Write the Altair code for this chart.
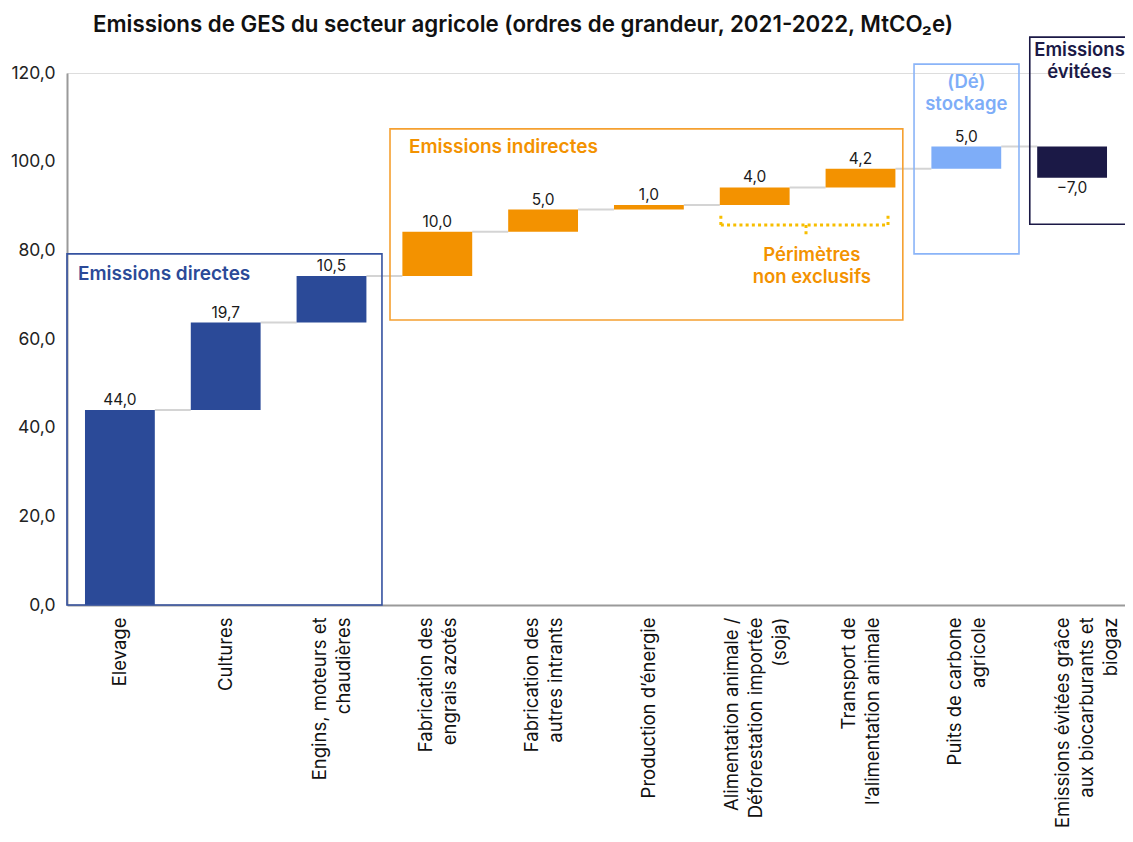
import json
import altair as alt
import pandas as pd

# ---------------- data ----------------
categories = [
    "Elevage",
    "Cultures",
    "Engins, moteurs et|chaudières",
    "Fabrication des|engrais azotés",
    "Fabrication des|autres intrants",
    "Production d’énergie",
    "Alimentation animale /|Déforestation importée|(soja)",
    "Transport de|l’alimentation animale",
    "Puits de carbone|agricole",
    "Emissions évitées grâce|aux biocarburants et|biogaz",
]
values = [44.0, 19.7, 10.5, 10.0, 5.0, 1.0, 4.0, 4.2, 5.0, -7.0]
groups = ["directes", "directes", "directes",
          "indirectes", "indirectes", "indirectes", "indirectes", "indirectes",
          "stockage", "evitees"]
y_ticks = [0, 20, 40, 60, 80, 100, 120]

group_names = ["directes", "indirectes", "stockage", "evitees"]
group_colors = ["#2B4A98", "#F39200", "#7EADF8", "#1B1946"]

# ---------------- derived table ----------------
df = pd.DataFrame({"idx": list(range(len(values))), "value": values, "group": groups})
df["end"] = df["value"].cumsum()
df["start"] = df["end"] - df["value"]
HALF = 0.33
df["x0"] = df["idx"] - HALF
df["x1"] = df["idx"] + HALF

conn = pd.DataFrame({
    "x0": df["x1"].iloc[:-1].values,
    "x1": (df["x0"].iloc[1:]).values,
    "y": df["end"].iloc[:-1].values,
})

# annotation boxes (data units)
boxes = pd.DataFrame({
    "x0": [-0.5, 2.553, 7.506, 8.60],
    "x1": [2.477, 7.40, 8.498, 9.75],
    "y0": [0.0, 64.3, 79.2, 85.9],
    "y1": [79.2, 107.4, 122.0, 128.1],
    "color": ["#3552A0", "#F5A030", "#8AB4F8", "#1B1946"],
})

notes = pd.DataFrame({
    "x": [-0.396, 2.732],
    "y": [74.7, 103.3],
    "text": ["Emissions directes", "Emissions indirectes"],
    "color": ["#2B4A98", "#F39200"],
})
notes_c = pd.DataFrame({
    "x": [8.0, 8.0, 9.07, 9.07, 6.54, 6.54],
    "y": [118.0, 113.0, 125.2, 120.2, 79.0, 74.0],
    "text": ["(Dé)", "stockage", "Emissions", "évitées", "Périmètres", "non exclusifs"],
    "color": ["#7EADF8", "#7EADF8", "#1B1946", "#1B1946", "#F39200", "#F39200"],
})

bracket = pd.DataFrame({
    "x0": [5.68, 5.68, 7.26, 6.485],
    "x1": [7.26, 5.68, 7.26, 6.485],
    "y0": [85.7, 85.7, 85.7, 85.7],
    "y1": [85.7, 88.4, 88.4, 83.4],
})

FONT = "Inter"
W, H = 1058, 532

xscale = alt.Scale(domain=[-0.5, 9.5], nice=False, zero=False)
yscale = alt.Scale(domain=[0, 120], nice=False)

label_arr = json.dumps(categories, ensure_ascii=False)
x_axis = alt.Axis(
    values=list(range(len(categories))),
    labelExpr=f"split({label_arr}[datum.value], '|')",
    labelAngle=270, labelAlign="right", labelBaseline="middle",
    labelFontSize=18.5, labelFont=FONT, labelColor="#111111",
    labelLineHeight=24, labelPadding=12, labelLimit=400,
    labelOverlap=False, labelFlush=False,
    labelOffset={
        "condition": [
            {"test": "datum.value == 6", "value": -23},
            {"test": "datum.value == 9", "value": -10},
            {"test": "datum.value == 2 || datum.value == 3 || datum.value == 4 || datum.value == 7 || datum.value == 8", "value": -12},
        ],
        "value": 0,
    },
    ticks=False, grid=False, title=None,
    domainColor="#9a9a9a", domainWidth=2,
)
y_axis = alt.Axis(
    values=y_ticks,
    labelExpr="replace(format(datum.value, '.1f'), '.', ',')",
    labelFontSize=17.5, labelFont=FONT, labelColor="#222222", labelPadding=12,
    ticks=False, grid=False, title=None,
    domainColor="#9a9a9a", domainWidth=2,
)

conn_layer = alt.Chart(conn).mark_rule(color="#d4d4d4", strokeWidth=2).encode(
    x=alt.X("x0:Q", scale=xscale, axis=x_axis), x2="x1:Q",
    y=alt.Y("y:Q", scale=yscale, axis=y_axis),
)

bars = alt.Chart(df).mark_rect().encode(
    x=alt.X("x0:Q", scale=xscale, axis=x_axis), x2="x1:Q",
    y=alt.Y("start:Q", scale=yscale, axis=y_axis), y2="end:Q",
    color=alt.Color("group:N", scale=alt.Scale(domain=group_names, range=group_colors), legend=None),
)

lbl_pos = alt.Chart(df).transform_filter("datum.value >= 0").transform_calculate(
    lbl="replace(format(datum.value, '.1f'), '.', ',')"
).mark_text(baseline="bottom", dy=-2, fontSize=15.5, font=FONT, color="#1a1a1a").encode(
    x=alt.X("idx:Q", scale=xscale),
    y=alt.Y("end:Q", scale=yscale),
    text="lbl:N",
)

lbl_neg = alt.Chart(df).transform_filter("datum.value < 0").transform_calculate(
    lbl="replace(format(datum.value, '.1f'), '.', ',')"
).mark_text(baseline="top", dy=3, fontSize=15.5, font=FONT, color="#1a1a1a").encode(
    x=alt.X("idx:Q", scale=xscale),
    y=alt.Y("end:Q", scale=yscale),
    text="lbl:N",
)

box_layer = alt.Chart(boxes).mark_rect(fill=None, strokeWidth=1.6, clip=False).encode(
    x=alt.X("x0:Q", scale=xscale), x2="x1:Q",
    y=alt.Y("y0:Q", scale=yscale), y2="y1:Q",
    stroke=alt.Stroke("color:N", scale=None),
)

bracket_layer = alt.Chart(bracket).mark_rule(
    color="#F7BE00", strokeWidth=3, strokeDash=[3, 3.2]
).encode(
    x=alt.X("x0:Q", scale=xscale), x2="x1:Q",
    y=alt.Y("y0:Q", scale=yscale), y2="y1:Q",
)

notes_layer = alt.Chart(notes).mark_text(
    align="left", baseline="middle", fontSize=19, fontWeight=600, font=FONT
).encode(
    x=alt.X("x:Q", scale=xscale), y=alt.Y("y:Q", scale=yscale),
    text="text:N", color=alt.Color("color:N", scale=None),
)

notes_c_layer = alt.Chart(notes_c).mark_text(
    align="center", baseline="middle", fontSize=18.5, fontWeight=600, font=FONT
).encode(
    x=alt.X("x:Q", scale=xscale), y=alt.Y("y:Q", scale=yscale),
    text="text:N", color=alt.Color("color:N", scale=None),
)

title_df = pd.DataFrame({"x": [-0.254], "y": [130.8],
                         "text": ["Emissions de GES du secteur agricole (ordres de grandeur, 2021-2022, MtCO₂e)"]})
title_layer = alt.Chart(title_df).mark_text(
    align="left", baseline="middle", fontSize=22.3, fontWeight=600, font=FONT, color="#111111"
).encode(
    x=alt.X("x:Q", scale=xscale), y=alt.Y("y:Q", scale=yscale), text="text:N",
)

chart = alt.layer(
    conn_layer, bars, lbl_pos, lbl_neg, box_layer, bracket_layer,
    notes_layer, notes_c_layer, title_layer,
).properties(
    width=W, height=H,
    autosize=alt.AutoSizeParams(type="none"),
    padding={"left": 59, "top": 65, "right": 0, "bottom": 228},
).configure_view(stroke=None).configure(font=FONT)

chart.save("out.html", embed_options={"renderer": "svg", "actions": False})
